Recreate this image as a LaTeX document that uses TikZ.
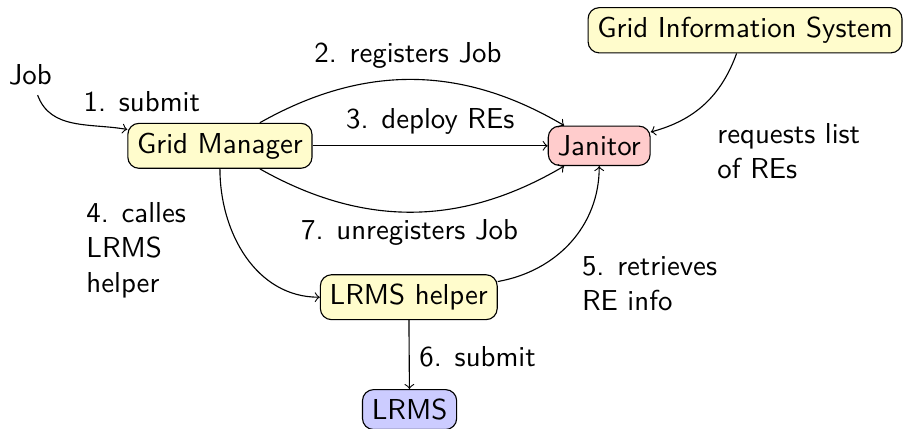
\documentclass[tikz,border=0pt]{standalone}
\usepackage{tikz}

\begin{document}
\begin{tikzpicture}[font=\sffamily\fontsize{10.3}{12.4}\selectfont,
                    box/.style={draw,rounded corners},
                    every edge/.style={draw,->}]
  \useasboundingbox (0,0) rectangle (11.37,-5.38);
  \node (job) at (0.38,-0.94) {Job};
  \node[box,fill=yellow!20] (gm) at (2.76,-1.83) {Grid Manager};
  \node[box,fill=red!20] (janitor) at (7.52,-1.83) {Janitor};
  \node[box,fill=yellow!20] (gis) at (9.35,-0.38) {Grid Information System};
  \node[box,fill=yellow!20] (helper) at (5.13,-3.73) {LRMS helper};
  \node[box,fill=blue!20] (lrms) at (5.14,-5.14) {LRMS};
  \draw (job) edge[out=-70,in=170] (gm);
  \draw (gm) edge[bend left=30] (janitor);
  \draw (gm) edge (janitor);
  \draw (gm) edge[bend right=30] (janitor);
  \draw (gis) edge[out=-110,in=15] (janitor);
  \draw (gm) edge[out=-90,in=180] (helper);
  \draw (helper) edge[out=10,in=-90] (janitor);
  \draw (helper) edge (lrms);
  % labels
  \node at (1.78,-1.27) {1. submit};
  \node at (5.12,-0.69) {2. registers Job};
  \node at (5.40,-1.53) {3. deploy REs};
  \node[align=left,anchor=west] at (8.88,-1.9) {requests list\\of REs};
  \node[align=left,anchor=west] at (0.96,-3.14) {4. calles\\LRMS\\helper};
  \node at (5.14,-2.92) {7. unregisters Job};
  \node[align=left,anchor=west] at (7.18,-3.56) {5. retrieves\\RE info};
  \node[anchor=west] at (5.14,-4.48) {6. submit};
\end{tikzpicture}
\end{document}
